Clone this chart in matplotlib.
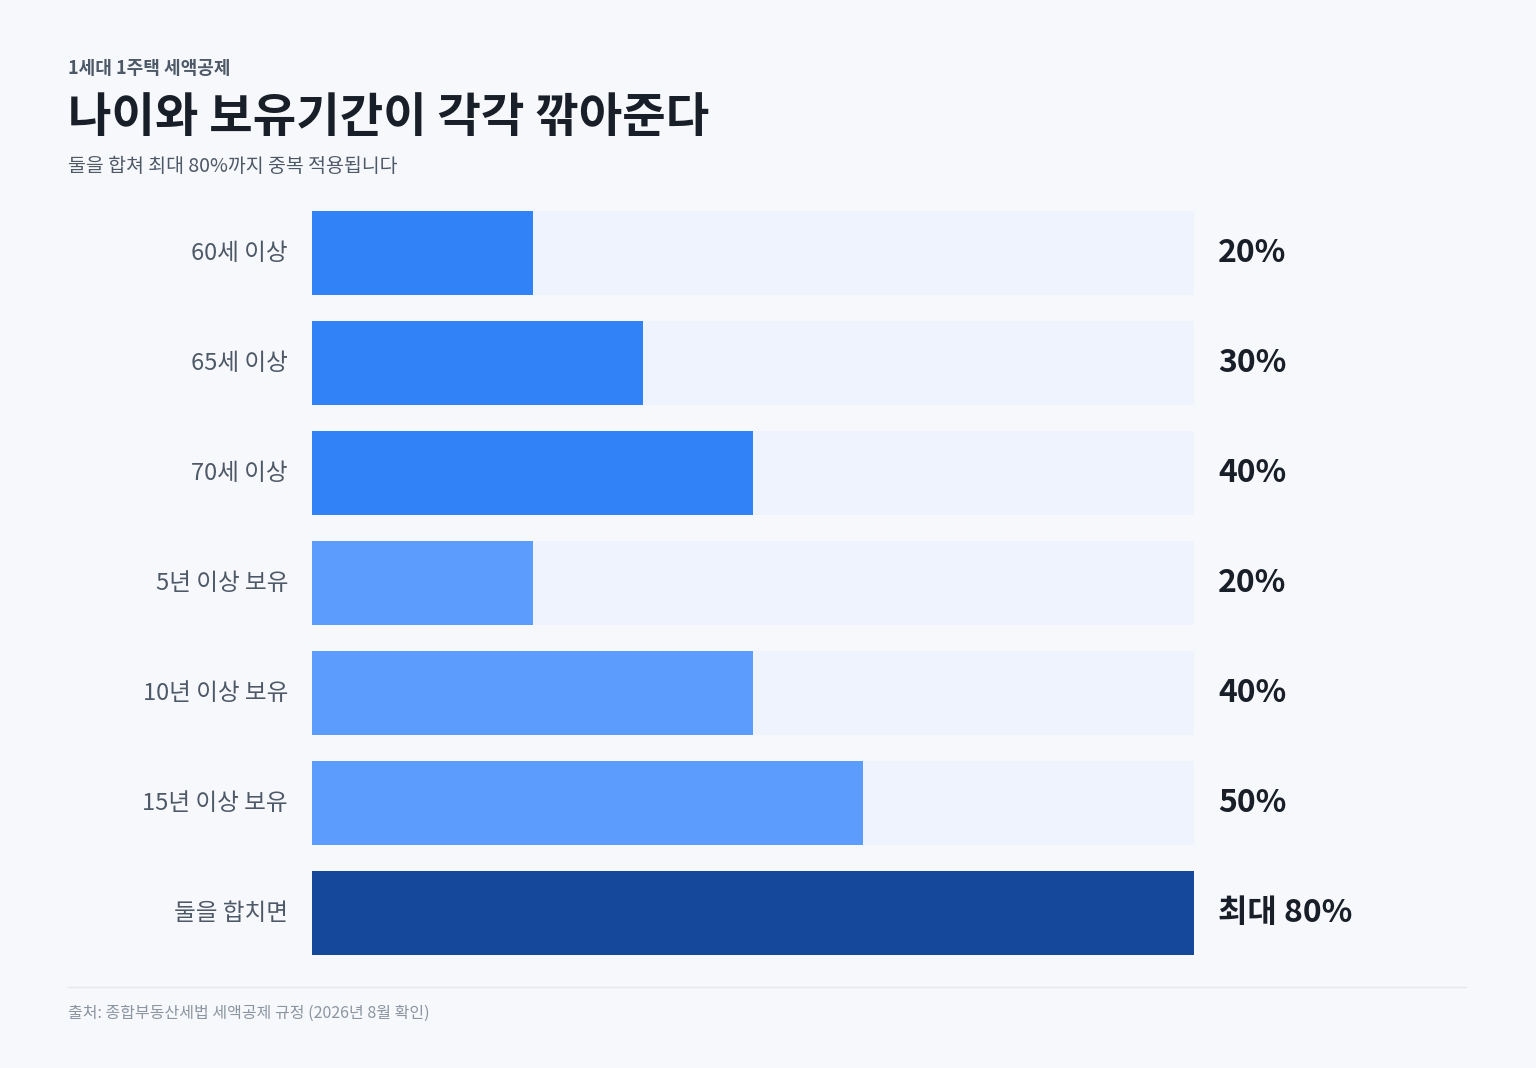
import matplotlib.pyplot as plt
import matplotlib.lines as mlines

plt.rcParams['font.family'] = ['Noto Sans CJK KR', 'DejaVu Sans']

labels = ['60세 이상', '65세 이상', '70세 이상', '5년 이상 보유', '10년 이상 보유', '15년 이상 보유', '둘을 합치면']
values = [20, 30, 40, 20, 40, 50, 80]
value_text = ['20%', '30%', '40%', '20%', '40%', '50%', '최대 80%']
colors = ['#3182F6'] * 3 + ['#5B9CFD'] * 3 + ['#15489B']

W, H = 1536, 1068
fig = plt.figure(figsize=(W / 100, H / 100), dpi=100)
fig.patch.set_facecolor('#F7F8FB')

ax = fig.add_axes([312 / W, 1 - 955 / H, 882 / W, 744 / H])
ax.set_facecolor('none')
h = 84 / 110
ys = list(range(len(values)))
ax.barh(ys, [80] * len(values), height=h, color='#EEF3FD')
ax.barh(ys, values, height=h, color=colors)
ax.set_xlim(0, 80)
ax.set_ylim(len(values) - 1 + h / 2, -h / 2)
ax.axis('off')

for y, lab, vt in zip(ys, labels, value_text):
    ax.text(-24 / 882 * 80, y, lab, ha='right', va='center', fontsize=17,
            color='#4E5968', fontweight='medium')
    ax.text(80 + 24 / 882 * 80, y, vt, ha='left', va='center', fontsize=23,
            color='#191F28', fontweight='bold')

fig.text(68 / W, 1 - 68 / H, '1세대 1주택 세액공제', ha='left', va='center',
         fontsize=13, color='#4E5968', fontweight='bold')
fig.text(68 / W, 1 - 118 / H, '나이와 보유기간이 각각 깎아준다', ha='left', va='center',
         fontsize=34, color='#191F28', fontweight='bold')
fig.text(68 / W, 1 - 166 / H, '둘을 합쳐 최대 80%까지 중복 적용됩니다', ha='left', va='center',
         fontsize=14, color='#4E5968')
fig.add_artist(mlines.Line2D([68 / W, 1466 / W], [1 - 987 / H] * 2, color='#E5E8EB', lw=1))
fig.text(68 / W, 1 - 1013 / H, '출처: 종합부동산세법 세액공제 규정 (2026년 8월 확인)', ha='left',
         va='center', fontsize=11.5, color='#8B95A1')

fig.savefig('out.png', dpi=100, facecolor=fig.get_facecolor())
